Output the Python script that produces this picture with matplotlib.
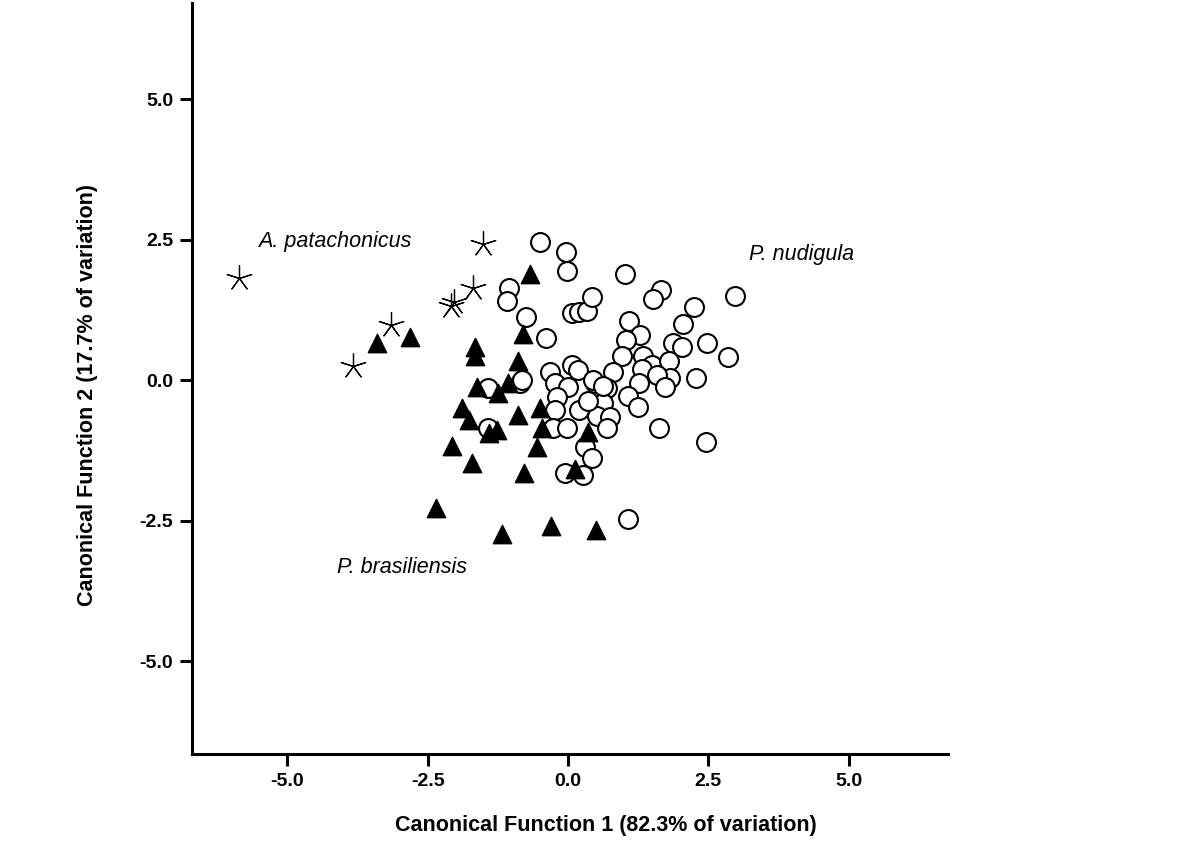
import numpy as np
import matplotlib.pyplot as plt
from matplotlib import font_manager

# Canonical scores
# A. patachonicus (asterisks)
ap_x = [-5.86, -3.83, -3.16, -2.08, -2.03, -1.69, -1.52]
ap_y = [1.83, 0.25, 0.98, 1.33, 1.40, 1.64, 2.42]

# P. brasiliensis (filled triangles)
pb_x = [-3.40, -2.82, -0.68, -0.80, -1.66, -1.66, -0.89, -1.62, -1.25, -1.07,
        -1.89, -1.76, -1.41, -1.27, -2.07, -1.71, -0.89, -0.50, -0.46, -0.55,
        -0.78, -2.35, -1.18, -0.30, 0.50, 0.36, 0.12]
pb_y = [0.66, 0.77, 1.90, 0.82, 0.59, 0.44, 0.34, -0.12, -0.23, -0.05,
        -0.50, -0.71, -0.93, -0.89, -1.16, -1.48, -0.62, -0.50, -0.85, -1.19,
        -1.65, -2.28, -2.74, -2.60, -2.67, -0.92, -1.57]

# P. nudigula (open circles)
pn_x = [-0.50, -0.04, -0.02, -1.05, -1.09, -0.75, -0.39, 0.07, 0.20, 0.34,
        0.43, 1.02, 1.66, 1.52, 2.25, 2.98, 2.05, 1.09, 1.28, 1.03,
        0.96, 1.87, 2.03, 2.48, 2.85, 1.34, 1.50, 1.80, 1.32, 1.82,
        1.59, 1.73, 1.27, 2.28, 1.07, 1.25, 1.62, 2.46, 0.80, 0.48,
        0.70, 0.62, 0.52, 0.75, 0.70, -0.32, 0.07, 0.18, -0.23, 0.00,
        -0.20, 0.45, -0.23, 0.20, 0.36, -0.27, -0.02, 0.30, 0.43, -0.05,
        0.27, -0.86, -0.82, -1.43, -1.43, 1.07, 0.62]
pn_y = [2.47, 2.28, 1.94, 1.64, 1.41, 1.12, 0.75, 1.19, 1.21, 1.23,
        1.49, 1.90, 1.60, 1.44, 1.30, 1.51, 1.00, 1.05, 0.80, 0.71,
        0.43, 0.66, 0.59, 0.66, 0.41, 0.44, 0.27, 0.34, 0.21, 0.05,
        0.09, -0.12, -0.05, 0.04, -0.28, -0.48, -0.85, -1.10, 0.14, -0.04,
        -0.14, -0.41, -0.64, -0.66, -0.84, 0.14, 0.27, 0.18, -0.04, -0.12,
        -0.30, 0.00, -0.53, -0.53, -0.36, -0.85, -0.85, -1.19, -1.39, -1.65,
        -1.69, -0.05, 0.00, -0.14, -0.84, -2.46, -0.10]

ticks = [-5.0, -2.5, 0.0, 2.5, 5.0]

names = {f.name for f in font_manager.fontManager.ttflist}
label_font = 'Liberation Sans Narrow' if 'Liberation Sans Narrow' in names else 'Liberation Sans'
plt.rcParams['font.family'] = ['Liberation Sans', 'DejaVu Sans']

fig = plt.figure(figsize=(12, 8.49), dpi=100)
ax = fig.add_axes([0.16, 0.112, 0.63, 0.884])

ax.scatter(pn_x, pn_y, s=185, marker='o', facecolors='white',
           edgecolors='black', linewidths=1.5, zorder=3)
ax.scatter(pb_x, pb_y, s=175, marker='^', color='black', zorder=4)
ax.scatter(ap_x, ap_y, s=340, marker=(5, 2, 0), color='black',
           linewidths=0.9, zorder=5)

ax.text(-5.52, 2.48, 'A. patachonicus', fontsize=15.5, style='italic', va='center')
ax.text(3.22, 2.24, 'P. nudigula', fontsize=15.5, style='italic', va='center')
ax.text(-4.12, -3.34, 'P. brasiliensis', fontsize=15.5, style='italic', va='center')

ax.set_xlim(-6.70, 6.77)
ax.set_ylim(-6.65, 6.71)
ax.set_xticks(ticks)
ax.set_yticks(ticks)
ax.set_xticklabels([f'{t:.1f}' for t in ticks], fontweight='bold', fontsize=14)
ax.set_yticklabels([f'{t:.1f}' for t in ticks], fontweight='bold', fontsize=14)
ax.tick_params(direction='out', length=8.5, width=2.2, pad=5)

for side in ['top', 'right']:
    ax.spines[side].set_visible(False)
for side in ['left', 'bottom']:
    ax.spines[side].set_linewidth(2.2)

ax.set_xlabel('Canonical Function 1 (82.3% of variation)', fontsize=15.5,
              fontweight='bold', family=label_font, va='center')
ax.set_ylabel('Canonical Function 2 (17.7% of variation)', fontsize=15.5,
              fontweight='bold', family=label_font, va='center')
ax.xaxis.set_label_coords(0.548, -0.096)
ax.yaxis.set_label_coords(-0.138, 0.478)

fig.savefig('out.png', dpi=100)
